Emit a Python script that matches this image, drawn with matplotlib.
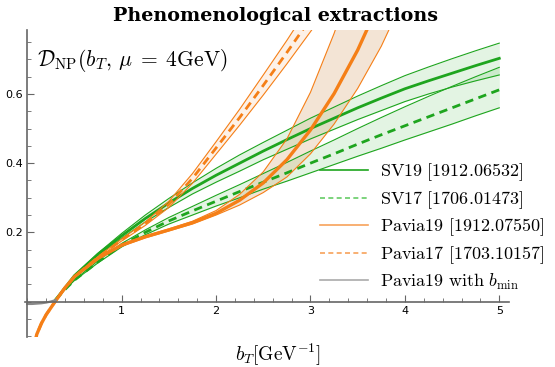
import numpy as np
import matplotlib
matplotlib.use("Agg")
import matplotlib.pyplot as plt
from matplotlib.lines import Line2D
from matplotlib.ticker import MultipleLocator, FixedLocator

plt.rcParams['mathtext.fontset'] = 'cm'

# SV extractions (green)
sv_b = [0.3, 0.4, 0.5, 0.75, 1.0, 1.25, 1.5, 1.75, 2.0, 2.25, 2.5, 2.75, 3.0,
        3.25, 3.5, 3.75, 4.0, 4.25, 4.5, 4.75, 5.0]
sv19 = [0.005, 0.04, 0.075, 0.137, 0.19, 0.24, 0.285, 0.327, 0.365, 0.40, 0.435,
        0.468, 0.50, 0.53, 0.56, 0.588, 0.615, 0.638, 0.66, 0.682, 0.703]
sv19_hi = [0.005, 0.04, 0.076, 0.14, 0.197, 0.25, 0.298, 0.343, 0.385, 0.424, 0.46,
           0.495, 0.53, 0.562, 0.594, 0.624, 0.653, 0.678, 0.702, 0.725, 0.747]
sv19_lo = [0.005, 0.04, 0.074, 0.134, 0.183, 0.23, 0.272, 0.311, 0.345, 0.377, 0.41,
           0.44, 0.47, 0.498, 0.526, 0.552, 0.578, 0.60, 0.62, 0.638, 0.655]
sv17 = [0.005, 0.035, 0.062, 0.115, 0.163, 0.20, 0.233, 0.262, 0.29, 0.318, 0.345,
        0.372, 0.40, 0.427, 0.455, 0.482, 0.508, 0.534, 0.56, 0.586, 0.612]
sv17_hi = [0.005, 0.035, 0.063, 0.118, 0.168, 0.207, 0.243, 0.275, 0.307, 0.338, 0.37,
           0.402, 0.435, 0.467, 0.50, 0.532, 0.563, 0.593, 0.622, 0.65, 0.677]
sv17_lo = [0.005, 0.035, 0.061, 0.112, 0.158, 0.193, 0.224, 0.25, 0.276, 0.30, 0.325,
           0.348, 0.372, 0.396, 0.42, 0.443, 0.467, 0.49, 0.513, 0.537, 0.56]

# Pavia extractions (orange)
pv_b = [0.08, 0.1, 0.15, 0.2, 0.3, 0.4, 0.5, 0.75, 1.0, 1.25, 1.5, 1.75, 2.0,
        2.25, 2.5, 2.75, 3.0, 3.25, 3.5, 3.75, 4.0]
pv19 = [-0.12, -0.095, -0.063, -0.038, 0.002, 0.04, 0.072, 0.125, 0.163, 0.187, 0.207,
        0.228, 0.255, 0.293, 0.343, 0.41, 0.496, 0.601, 0.727, 0.877, 1.05]
pv19_hi = [-0.12, -0.095, -0.063, -0.038, 0.002, 0.04, 0.073, 0.127, 0.166, 0.19, 0.21,
           0.232, 0.263, 0.31, 0.375, 0.47, 0.605, 0.775, 0.97, 1.17, 1.37]
pv19_lo = [-0.12, -0.095, -0.063, -0.038, 0.002, 0.04, 0.071, 0.123, 0.16, 0.184, 0.204,
           0.224, 0.25, 0.279, 0.315, 0.36, 0.427, 0.513, 0.616, 0.738, 0.884]
pv17 = [-0.12, -0.095, -0.063, -0.038, 0.002, 0.04, 0.072, 0.128, 0.178, 0.225, 0.281,
        0.356, 0.444, 0.532, 0.625, 0.72, 0.818, 0.92, 1.025, 1.13, 1.24]
pv17_hi = [-0.12, -0.095, -0.063, -0.038, 0.002, 0.04, 0.073, 0.13, 0.181, 0.23, 0.29,
           0.37, 0.462, 0.556, 0.655, 0.755, 0.86, 0.965, 1.075, 1.185, 1.3]
pv17_lo = [-0.12, -0.095, -0.063, -0.038, 0.002, 0.04, 0.071, 0.126, 0.175, 0.22, 0.272,
           0.342, 0.426, 0.51, 0.597, 0.687, 0.78, 0.877, 0.977, 1.08, 1.185]

# Pavia19 with b_min
bmin_b = [0.0, 0.05, 0.1, 0.15, 0.2, 0.25, 0.3]
bmin_d = [-0.007, -0.007, -0.006, -0.005, -0.003, 0.0, 0.004]

green = '#1ea51e'
orange = '#f57f17'

fig = plt.figure(figsize=(5.55, 3.67), dpi=100)
ax = fig.add_axes([0.0458, 0.0823, 0.8708, 0.836])

# green bands
ax.fill_between(sv_b, sv19_lo, sv19_hi, color=green, alpha=0.12, lw=0)
ax.plot(sv_b, sv19_hi, color=green, lw=0.8)
ax.plot(sv_b, sv19_lo, color=green, lw=0.8)
ax.plot(sv_b, sv19, color=green, lw=2)
ax.fill_between(sv_b, sv17_lo, sv17_hi, color=green, alpha=0.12, lw=0)
ax.plot(sv_b, sv17_hi, color=green, lw=0.8)
ax.plot(sv_b, sv17_lo, color=green, lw=0.8)
ax.plot(sv_b, sv17, color=green, lw=2, ls=(0, (3, 2)))

# orange bands
ax.fill_between(pv_b, pv17_lo, pv17_hi, color=orange, alpha=0.1, lw=0)
ax.plot(pv_b, pv17_hi, color=orange, lw=0.8)
ax.plot(pv_b, pv17_lo, color=orange, lw=0.8)
ax.plot(pv_b, pv17, color=orange, lw=2, ls=(0, (3, 2)))
ax.fill_between(pv_b, pv19_lo, pv19_hi, color='#d9a877', alpha=0.3, lw=0)
ax.plot(pv_b, pv19_hi, color=orange, lw=0.8)
ax.plot(pv_b, pv19_lo, color=orange, lw=0.8)
ax.plot(pv_b, pv19, color=orange, lw=2.4)

ax.plot(bmin_b, bmin_d, color='#888888', lw=1.6)

ax.set_xlim(-0.02, 5.1)
ax.set_ylim(-0.102, 0.785)

# axes through the origin
for s in ['top', 'right']:
    ax.spines[s].set_visible(False)
ax.spines['left'].set_position(('data', 0))
ax.spines['bottom'].set_position(('data', 0))
for s in ['left', 'bottom']:
    ax.spines[s].set_color('#666666')
    ax.spines[s].set_linewidth(1.2)
ax.xaxis.set_major_locator(FixedLocator([1, 2, 3, 4, 5]))
ax.xaxis.set_minor_locator(MultipleLocator(0.2))
ax.yaxis.set_major_locator(FixedLocator([0.2, 0.4, 0.6]))
ax.yaxis.set_minor_locator(MultipleLocator(0.05))
ax.tick_params(axis='both', which='major', direction='in', length=5, width=0.8,
               color='#666666', labelsize=8, pad=3)
ax.tick_params(axis='both', which='minor', direction='in', length=3, width=0.6,
               color='#666666')
ax.set_xticklabels(['1', '2', '3', '4', '5'])
ax.set_yticklabels(['0.2', '0.4', '0.6'])

fig.text(0.497, 0.944, 'Phenomenological extractions', ha='center',
         va='baseline', fontsize=13.8, family='DejaVu Serif', weight='bold')
fig.text(0.066, 0.8365, r'$\mathcal{D}_{\mathrm{NP}}(b_T,\,\mu\;=\;4\mathrm{GeV})$',
         ha='left', va='center', fontsize=15.5)
fig.text(0.501, 0.033, r'$b_T[\mathrm{GeV}^{-1}]$', ha='center', va='center',
         fontsize=14)

handles = [
    Line2D([], [], color=green, lw=1.2),
    Line2D([], [], color='#66cc66', lw=1.2, ls=(0, (3, 2))),
    Line2D([], [], color='#f7a25a', lw=1.2),
    Line2D([], [], color='#f7a25a', lw=1.2, ls=(0, (3, 2))),
    Line2D([], [], color='#aaaaaa', lw=1.2),
]
labels = [
    r'$\mathrm{SV19\ [1912.06532]}$',
    r'$\mathrm{SV17\ [1706.01473]}$',
    r'$\mathrm{Pavia19\ [1912.07550]}$',
    r'$\mathrm{Pavia17\ [1703.10157]}$',
    r'$\mathrm{Pavia19\ with\ }b_{\min}$',
]
fig.legend(handles, labels, loc='center left', bbox_to_anchor=(0.5766, 0.382),
           frameon=False, fontsize=13, handlelength=2.66, handletextpad=0.66,
           labelspacing=0.32, borderaxespad=0, borderpad=0)

fig.savefig('out.png', dpi=100)
